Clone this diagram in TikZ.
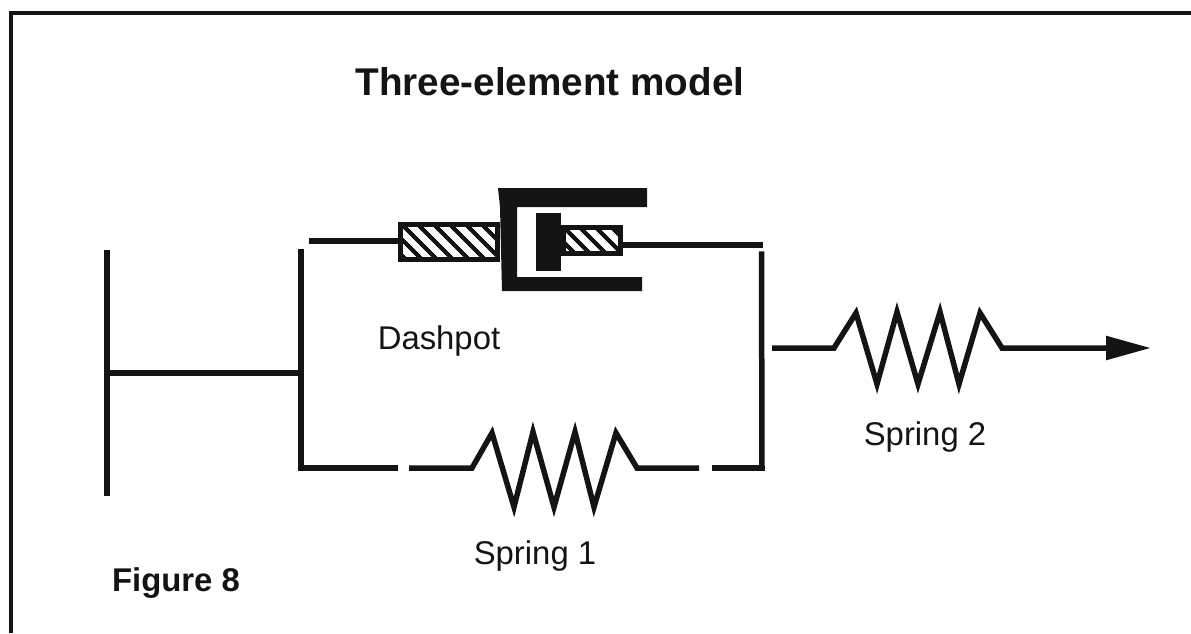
\documentclass[tikz,border=0pt]{standalone}
\usepackage{fontspec}
\setmainfont{Liberation Sans}
\usetikzlibrary{arrows.meta,patterns.meta}
\definecolor{ink}{RGB}{20,20,20}

\begin{document}
\begin{tikzpicture}[
  x=0.02cm,y=-0.02cm,
  wire/.style={draw=ink,line width=0.11cm,line join=miter},
  frameline/.style={draw=ink,line width=0.07cm},
  rodbox/.style={draw=ink,line width=0.1cm,inner sep=0pt,
    pattern={Lines[angle=-45,distance=6.4pt,line width=2.4pt]},pattern color=ink},
  solid/.style={fill=ink,inner sep=0pt},
  heading/.style={font=\bfseries\fontsize{22}{24}\selectfont,color=ink},
  caption/.style={font=\bfseries\fontsize{18.7}{21}\selectfont,color=ink},
  label/.style={font=\fontsize{18.7}{21}\selectfont,color=ink},
]
\useasboundingbox (0,0) rectangle (1191,633);

% frame
\draw[frameline] (11,633) -- (11,13) -- (1191,13);

% texts
\node[heading] (title) at (550,82) {Three-element model};
\node[caption] (figno) at (176,583) {Figure 8};
\node[label] (dashlabel) at (439,341) {Dashpot};
\node[label] (s1label) at (535,556) {Spring 1};
\node[label] (s2label) at (925,437) {Spring 2};

% wall and left bar
\coordinate (walltop) at (107,250);
\coordinate (wallbot) at (107,496);
\coordinate (wallmid) at (107,373);
\coordinate (bartop) at (301,252);
\coordinate (barmid) at (301,373);
\coordinate (barbot) at (301,468);
\draw[wire] (walltop) -- (wallbot);
\draw[wire] (wallmid) -- (barmid);
\draw[wire,line cap=rect] (bartop) -- (barbot);

% dashpot
\coordinate (dashin) at (309,241);
\node[rodbox,minimum width=1.94cm,minimum height=0.7cm] (rodleft) at (449,242) {};
\node[rodbox,minimum width=1.16cm,minimum height=0.52cm] (rodright) at (592,240.5) {};
\fill[ink] (498,188) -- (647,188) -- (647,207) -- (517,207) -- (517,277)
  -- (642,277) -- (642,291) -- (502,291) -- (500,207) -- cycle;
\node[solid,minimum width=0.5cm,minimum height=1.16cm] (piston) at (548.5,242) {};
\coordinate (cornertop) at (763,245);
\coordinate (cornerbot) at (762,468);
\draw[wire] (dashin) -- (rodleft.west |- dashin);
\draw[wire] (rodright.east |- cornertop) -- (cornertop);
\draw[wire,line cap=rect] (761.5,254) -- (cornerbot);

% spring 1
\coordinate (s1gapa) at (398,468);
\coordinate (s1gapb) at (409,468);
\coordinate (s1end) at (699,468);
\coordinate (s1gapc) at (712,468);
\draw[wire] (barbot) -- (s1gapa);
\draw[wire] (s1gapb) -- (472,468) -- (492,433) -- (514,507) -- (533,432) -- (554,507)
  -- (575,432) -- (594,507) -- (616,433) -- (637,468) -- (s1end);
\draw[wire] (s1gapc) -- (cornerbot);

% spring 2
\coordinate (s2start) at (772,348);
\coordinate (s2end) at (1151,348);
\draw[wire,-{Triangle[length=0.9cm,width=0.46cm]}] (s2start) -- (834,348) -- (856,313) -- (877,384)
  -- (897,312) -- (918,384) -- (940,312) -- (959,384) -- (980,313) -- (1002,348) -- (s2end);

\end{tikzpicture}
\end{document}
